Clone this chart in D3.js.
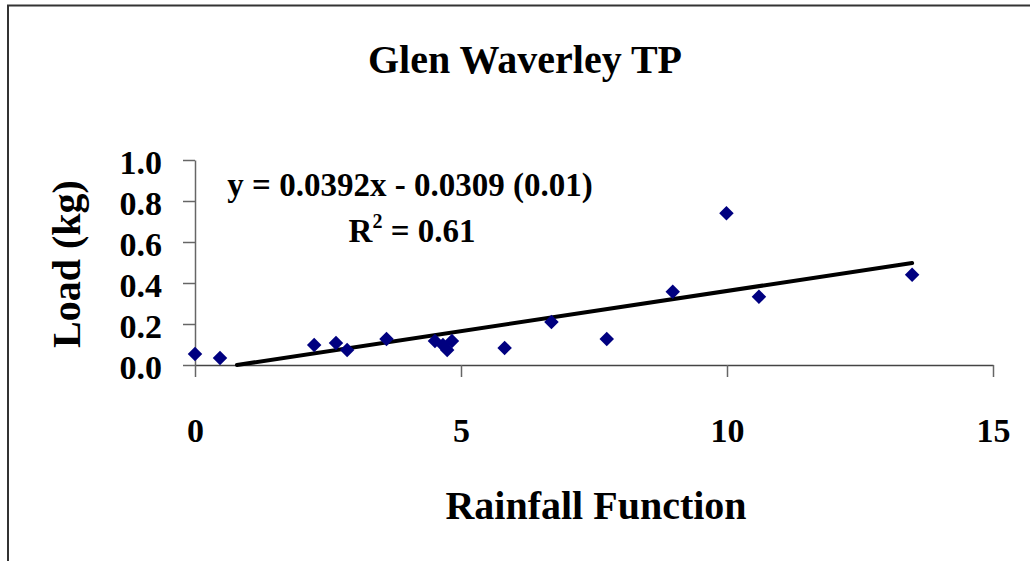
<!DOCTYPE html>
<html>
<head>
<meta charset="utf-8">
<script src="https://cdn.jsdelivr.net/npm/d3@7"></script>
<style>
  body { margin: 0; background: #fff; }
  svg text { font-family: "Liberation Serif", "DejaVu Serif", serif; font-weight: bold; fill: #000; }
</style>
</head>
<body>
<div id="chartArea"></div>
<script>
// rainfall function vs load
var rainfall = [0, 0.47, 2.24, 2.65, 2.86, 3.6, 4.51, 4.66, 4.74, 4.83, 5.82, 6.7, 7.74, 8.98, 9.99, 10.6, 13.48];
var load     = [0.054, 0.034, 0.098, 0.107, 0.073, 0.127, 0.117, 0.098, 0.073, 0.117, 0.083, 0.21, 0.127, 0.357, 0.74, 0.333, 0.44];

var xTicks = [0, 5, 10, 15];
var yTicks = [0, 0.2, 0.4, 0.6, 0.8, 1.0];

// trendline as printed on the chart
var trendSlope = 0.0392;
var trendIntercept = -0.0309;
var trendLabel = "y = 0.0392x - 0.0309 (0.01)";
var r2Value = "0.61";

var width = 1030, height = 561;
var plot = {left: 195, right: 993, top: 160, bottom: 365};

var svg = d3.select("#chartArea")
    .append("svg")
    .attr("width", width)
    .attr("height", height);

svg.append("rect").attr("width", width).attr("height", height).attr("fill", "#fff");

// chart frame (only top and left edges are visible in the crop)
svg.append("path")
    .attr("d", "M8," + height + "V5.5H" + width)
    .attr("fill", "none")
    .attr("stroke", "#333")
    .attr("stroke-width", 2);

var x = d3.scaleLinear().domain([0, 15]).range([plot.left, plot.right]);
var y = d3.scaleLinear().domain([0, 1]).range([plot.bottom, plot.top]);

// y axis
var yAxis = svg.append("g")
    .attr("transform", "translate(" + plot.left + ",0)")
    .call(d3.axisLeft(y).tickValues(yTicks).tickFormat(d3.format(".1f")).tickSizeInner(12).tickSizeOuter(0).tickPadding(21));
yAxis.select(".domain").attr("stroke", "#666").attr("stroke-width", 1.5);
yAxis.selectAll(".tick line").attr("stroke", "#666").attr("stroke-width", 1.5);
yAxis.selectAll(".tick text")
    .style("font-family", "Liberation Serif, serif").style("font-weight", "bold")
    .attr("font-size", 34).attr("fill", "#000").attr("dy", "0.4em");

// x axis
var xAxis = svg.append("g")
    .attr("transform", "translate(0," + plot.bottom + ")")
    .call(d3.axisBottom(x).tickValues(xTicks).tickSizeInner(12).tickSizeOuter(0).tickPadding(41));
xAxis.select(".domain").attr("stroke", "#444").attr("stroke-width", 1.5);
xAxis.selectAll(".tick line").attr("stroke", "#666").attr("stroke-width", 1.5);
xAxis.selectAll(".tick text")
    .style("font-family", "Liberation Serif, serif").style("font-weight", "bold")
    .attr("font-size", 34).attr("fill", "#000");

// trendline, clipped where it drops below zero
var x0 = Math.max(0, -trendIntercept / trendSlope);
var x1 = d3.max(rainfall);
svg.append("line")
    .attr("x1", x(x0)).attr("y1", y(trendSlope * x0 + trendIntercept))
    .attr("x2", x(x1)).attr("y2", y(trendSlope * x1 + trendIntercept))
    .attr("stroke", "#000")
    .attr("stroke-width", 4)
    .attr("stroke-linecap", "round");

// diamond markers
var pts = rainfall.map(function (d, i) { return {x: d, y: load[i]}; });
svg.append("g").selectAll("path")
    .data(pts)
    .enter()
    .append("path")
    .attr("d", d3.symbol().type(d3.symbolSquare).size(105))
    .attr("transform", function (d) { return "translate(" + x(d.x) + "," + y(d.y) + ") rotate(45)"; })
    .attr("fill", "#000080");

// title and axis titles
svg.append("text")
    .attr("x", 525).attr("y", 73)
    .attr("text-anchor", "middle")
    .attr("font-size", 40)
    .text("Glen Waverley TP");

svg.append("text")
    .attr("x", 596).attr("y", 519)
    .attr("text-anchor", "middle")
    .attr("font-size", 40)
    .text("Rainfall Function");

svg.append("text")
    .attr("transform", "translate(80,264) rotate(-90)")
    .attr("text-anchor", "middle")
    .attr("font-size", 40)
    .text("Load (kg)");

// trendline equation
svg.append("text")
    .attr("x", 410).attr("y", 196)
    .attr("text-anchor", "middle")
    .attr("font-size", 33)
    .text(trendLabel);

var r2 = svg.append("text")
    .attr("x", 412).attr("y", 242)
    .attr("text-anchor", "middle")
    .attr("font-size", 33);
r2.append("tspan").text("R");
r2.append("tspan").attr("font-size", 20).attr("dy", -14).text("2");
r2.append("tspan").attr("dy", 14).text(" = " + r2Value);
</script>
</body>
</html>
